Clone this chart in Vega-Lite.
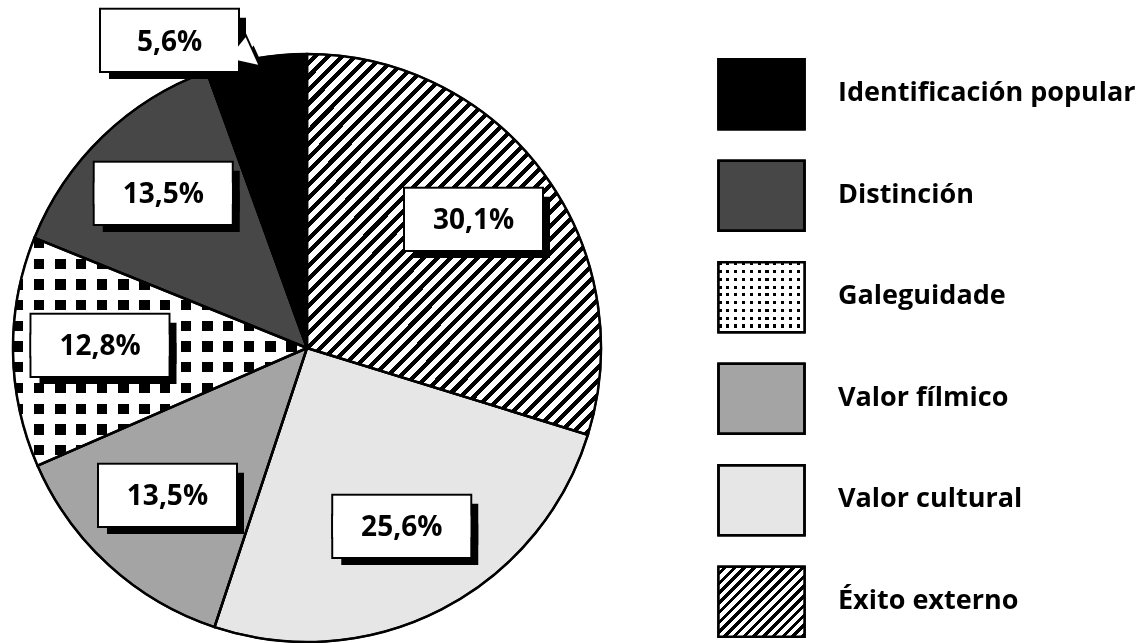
{
  "$schema": "https://vega.github.io/schema/vega-lite/v6.json",
  "padding": 0,
  "background": "white",
  "spacing": 61,
  "config": {"view": {"stroke": null}},
  "datasets": {
    "pie": [
      {"cat": "Éxito externo", "pct": 30.1, "label": "30,1%", "order": 1},
      {"cat": "Valor cultural", "pct": 25.6, "label": "25,6%", "order": 2},
      {"cat": "Valor fílmico", "pct": 13.5, "label": "13,5%", "order": 3},
      {"cat": "Galeguidade", "pct": 12.8, "label": "12,8%", "order": 4},
      {"cat": "Distinción", "pct": 13.5, "label": "13,5%", "order": 5},
      {"cat": "Identificación popular", "pct": 5.6, "label": "5,6%", "order": 6}
    ]
  },
  "hconcat": [
    {
      "width": 614,
      "height": 696,
      "data": {"name": "pie"},
      "encoding": {
        "theta": {"field": "pct", "type": "quantitative", "stack": true},
        "order": {"field": "order", "type": "quantitative"}
      },
      "layer": [
        {
          "mark": {"type": "arc", "outerRadius": 294, "stroke": "#000", "strokeWidth": 2},
          "encoding": {
            "color": {"field": "cat", "type": "nominal", "legend": null,
              "scale": {"domain": ["Éxito externo", "Valor cultural", "Valor fílmico", "Galeguidade", "Distinción", "Identificación popular"],
                        "range": ["#ffffff", "#e6e6e6", "#a4a4a4", "#ffffff", "#474747", "#000000"]}}
          }
        },
        {
          "mark": {"type": "arc", "outerRadius": 294, "strokeWidth": 0,
            "fill": {"gradient": "linear", "x1": 0, "y1": 0, "x2": 0.859, "y2": 1.109, "stops": [
              {"offset": 0, "color": "#fff"}, {"offset": 0.011, "color": "#fff"}, {"offset": 0.011, "color": "#000"}, {"offset": 0.02, "color": "#000"},
              {"offset": 0.02, "color": "#fff"}, {"offset": 0.031, "color": "#fff"}, {"offset": 0.031, "color": "#000"}, {"offset": 0.04, "color": "#000"},
              {"offset": 0.04, "color": "#fff"}, {"offset": 0.051, "color": "#fff"}, {"offset": 0.051, "color": "#000"}, {"offset": 0.06, "color": "#000"},
              {"offset": 0.06, "color": "#fff"}, {"offset": 0.071, "color": "#fff"}, {"offset": 0.071, "color": "#000"}, {"offset": 0.08, "color": "#000"},
              {"offset": 0.08, "color": "#fff"}, {"offset": 0.091, "color": "#fff"}, {"offset": 0.091, "color": "#000"}, {"offset": 0.1, "color": "#000"},
              {"offset": 0.1, "color": "#fff"}, {"offset": 0.111, "color": "#fff"}, {"offset": 0.111, "color": "#000"}, {"offset": 0.12, "color": "#000"},
              {"offset": 0.12, "color": "#fff"}, {"offset": 0.131, "color": "#fff"}, {"offset": 0.131, "color": "#000"}, {"offset": 0.14, "color": "#000"},
              {"offset": 0.14, "color": "#fff"}, {"offset": 0.151, "color": "#fff"}, {"offset": 0.151, "color": "#000"}, {"offset": 0.16, "color": "#000"},
              {"offset": 0.16, "color": "#fff"}, {"offset": 0.171, "color": "#fff"}, {"offset": 0.171, "color": "#000"}, {"offset": 0.18, "color": "#000"},
              {"offset": 0.18, "color": "#fff"}, {"offset": 0.191, "color": "#fff"}, {"offset": 0.191, "color": "#000"}, {"offset": 0.2, "color": "#000"},
              {"offset": 0.2, "color": "#fff"}, {"offset": 0.211, "color": "#fff"}, {"offset": 0.211, "color": "#000"}, {"offset": 0.22, "color": "#000"},
              {"offset": 0.22, "color": "#fff"}, {"offset": 0.231, "color": "#fff"}, {"offset": 0.231, "color": "#000"}, {"offset": 0.24, "color": "#000"},
              {"offset": 0.24, "color": "#fff"}, {"offset": 0.251, "color": "#fff"}, {"offset": 0.251, "color": "#000"}, {"offset": 0.26, "color": "#000"},
              {"offset": 0.26, "color": "#fff"}, {"offset": 0.271, "color": "#fff"}, {"offset": 0.271, "color": "#000"}, {"offset": 0.28, "color": "#000"},
              {"offset": 0.28, "color": "#fff"}, {"offset": 0.291, "color": "#fff"}, {"offset": 0.291, "color": "#000"}, {"offset": 0.3, "color": "#000"},
              {"offset": 0.3, "color": "#fff"}, {"offset": 0.311, "color": "#fff"}, {"offset": 0.311, "color": "#000"}, {"offset": 0.32, "color": "#000"},
              {"offset": 0.32, "color": "#fff"}, {"offset": 0.331, "color": "#fff"}, {"offset": 0.331, "color": "#000"}, {"offset": 0.34, "color": "#000"},
              {"offset": 0.34, "color": "#fff"}, {"offset": 0.351, "color": "#fff"}, {"offset": 0.351, "color": "#000"}, {"offset": 0.36, "color": "#000"},
              {"offset": 0.36, "color": "#fff"}, {"offset": 0.371, "color": "#fff"}, {"offset": 0.371, "color": "#000"}, {"offset": 0.38, "color": "#000"},
              {"offset": 0.38, "color": "#fff"}, {"offset": 0.391, "color": "#fff"}, {"offset": 0.391, "color": "#000"}, {"offset": 0.4, "color": "#000"},
              {"offset": 0.4, "color": "#fff"}, {"offset": 0.411, "color": "#fff"}, {"offset": 0.411, "color": "#000"}, {"offset": 0.42, "color": "#000"},
              {"offset": 0.42, "color": "#fff"}, {"offset": 0.431, "color": "#fff"}, {"offset": 0.431, "color": "#000"}, {"offset": 0.44, "color": "#000"},
              {"offset": 0.44, "color": "#fff"}, {"offset": 0.451, "color": "#fff"}, {"offset": 0.451, "color": "#000"}, {"offset": 0.46, "color": "#000"},
              {"offset": 0.46, "color": "#fff"}, {"offset": 0.471, "color": "#fff"}, {"offset": 0.471, "color": "#000"}, {"offset": 0.48, "color": "#000"},
              {"offset": 0.48, "color": "#fff"}, {"offset": 0.491, "color": "#fff"}, {"offset": 0.491, "color": "#000"}, {"offset": 0.5, "color": "#000"},
              {"offset": 0.5, "color": "#fff"}, {"offset": 0.511, "color": "#fff"}, {"offset": 0.511, "color": "#000"}, {"offset": 0.52, "color": "#000"},
              {"offset": 0.52, "color": "#fff"}, {"offset": 0.531, "color": "#fff"}, {"offset": 0.531, "color": "#000"}, {"offset": 0.54, "color": "#000"},
              {"offset": 0.54, "color": "#fff"}, {"offset": 0.551, "color": "#fff"}, {"offset": 0.551, "color": "#000"}, {"offset": 0.56, "color": "#000"},
              {"offset": 0.56, "color": "#fff"}, {"offset": 0.571, "color": "#fff"}, {"offset": 0.571, "color": "#000"}, {"offset": 0.58, "color": "#000"},
              {"offset": 0.58, "color": "#fff"}, {"offset": 0.591, "color": "#fff"}, {"offset": 0.591, "color": "#000"}, {"offset": 0.6, "color": "#000"},
              {"offset": 0.6, "color": "#fff"}, {"offset": 0.611, "color": "#fff"}, {"offset": 0.611, "color": "#000"}, {"offset": 0.62, "color": "#000"},
              {"offset": 0.62, "color": "#fff"}, {"offset": 0.631, "color": "#fff"}, {"offset": 0.631, "color": "#000"}, {"offset": 0.64, "color": "#000"},
              {"offset": 0.64, "color": "#fff"}, {"offset": 0.651, "color": "#fff"}, {"offset": 0.651, "color": "#000"}, {"offset": 0.66, "color": "#000"},
              {"offset": 0.66, "color": "#fff"}, {"offset": 0.671, "color": "#fff"}, {"offset": 0.671, "color": "#000"}, {"offset": 0.68, "color": "#000"},
              {"offset": 0.68, "color": "#fff"}, {"offset": 0.691, "color": "#fff"}, {"offset": 0.691, "color": "#000"}, {"offset": 0.7, "color": "#000"},
              {"offset": 0.7, "color": "#fff"}, {"offset": 0.711, "color": "#fff"}, {"offset": 0.711, "color": "#000"}, {"offset": 0.72, "color": "#000"},
              {"offset": 0.72, "color": "#fff"}, {"offset": 0.731, "color": "#fff"}, {"offset": 0.731, "color": "#000"}, {"offset": 0.74, "color": "#000"},
              {"offset": 0.74, "color": "#fff"}, {"offset": 0.751, "color": "#fff"}, {"offset": 0.751, "color": "#000"}, {"offset": 0.76, "color": "#000"},
              {"offset": 0.76, "color": "#fff"}, {"offset": 0.771, "color": "#fff"}, {"offset": 0.771, "color": "#000"}, {"offset": 0.78, "color": "#000"},
              {"offset": 0.78, "color": "#fff"}, {"offset": 0.791, "color": "#fff"}, {"offset": 0.791, "color": "#000"}, {"offset": 0.8, "color": "#000"},
              {"offset": 0.8, "color": "#fff"}, {"offset": 0.811, "color": "#fff"}, {"offset": 0.811, "color": "#000"}, {"offset": 0.82, "color": "#000"},
              {"offset": 0.82, "color": "#fff"}, {"offset": 0.831, "color": "#fff"}, {"offset": 0.831, "color": "#000"}, {"offset": 0.84, "color": "#000"},
              {"offset": 0.84, "color": "#fff"}, {"offset": 0.851, "color": "#fff"}, {"offset": 0.851, "color": "#000"}, {"offset": 0.86, "color": "#000"},
              {"offset": 0.86, "color": "#fff"}, {"offset": 0.871, "color": "#fff"}, {"offset": 0.871, "color": "#000"}, {"offset": 0.88, "color": "#000"},
              {"offset": 0.88, "color": "#fff"}, {"offset": 0.891, "color": "#fff"}, {"offset": 0.891, "color": "#000"}, {"offset": 0.9, "color": "#000"},
              {"offset": 0.9, "color": "#fff"}, {"offset": 0.911, "color": "#fff"}, {"offset": 0.911, "color": "#000"}, {"offset": 0.92, "color": "#000"},
              {"offset": 0.92, "color": "#fff"}, {"offset": 0.931, "color": "#fff"}, {"offset": 0.931, "color": "#000"}, {"offset": 0.94, "color": "#000"},
              {"offset": 0.94, "color": "#fff"}, {"offset": 0.951, "color": "#fff"}, {"offset": 0.951, "color": "#000"}, {"offset": 0.96, "color": "#000"},
              {"offset": 0.96, "color": "#fff"}, {"offset": 0.971, "color": "#fff"}, {"offset": 0.971, "color": "#000"}, {"offset": 0.98, "color": "#000"},
              {"offset": 0.98, "color": "#fff"}, {"offset": 0.991, "color": "#fff"}, {"offset": 0.991, "color": "#000"}, {"offset": 1, "color": "#000"}
            ]}},
          "encoding": {
            "detail": {"field": "cat"},
            "fillOpacity": {"condition": {"test": "datum.cat === 'Éxito externo'", "value": 1}, "value": 0}
          }
        },
        {
          "mark": {"type": "arc", "outerRadius": 294, "strokeWidth": 0,
            "fill": {"gradient": "linear", "x1": 0, "y1": 0, "x2": 0, "y2": 1, "stops": [
              {"offset": 0, "color": "#000"}, {"offset": 0.0455, "color": "#000"}, {"offset": 0.0455, "color": "#fff"}, {"offset": 0.0909, "color": "#fff"},
              {"offset": 0.0909, "color": "#000"}, {"offset": 0.1364, "color": "#000"}, {"offset": 0.1364, "color": "#fff"}, {"offset": 0.1818, "color": "#fff"},
              {"offset": 0.1818, "color": "#000"}, {"offset": 0.2273, "color": "#000"}, {"offset": 0.2273, "color": "#fff"}, {"offset": 0.2727, "color": "#fff"},
              {"offset": 0.2727, "color": "#000"}, {"offset": 0.3182, "color": "#000"}, {"offset": 0.3182, "color": "#fff"}, {"offset": 0.3636, "color": "#fff"},
              {"offset": 0.3636, "color": "#000"}, {"offset": 0.4091, "color": "#000"}, {"offset": 0.4091, "color": "#fff"}, {"offset": 0.4545, "color": "#fff"},
              {"offset": 0.4545, "color": "#000"}, {"offset": 0.5, "color": "#000"}, {"offset": 0.5, "color": "#fff"}, {"offset": 0.5455, "color": "#fff"},
              {"offset": 0.5455, "color": "#000"}, {"offset": 0.5909, "color": "#000"}, {"offset": 0.5909, "color": "#fff"}, {"offset": 0.6364, "color": "#fff"},
              {"offset": 0.6364, "color": "#000"}, {"offset": 0.6818, "color": "#000"}, {"offset": 0.6818, "color": "#fff"}, {"offset": 0.7273, "color": "#fff"},
              {"offset": 0.7273, "color": "#000"}, {"offset": 0.7727, "color": "#000"}, {"offset": 0.7727, "color": "#fff"}, {"offset": 0.8182, "color": "#fff"},
              {"offset": 0.8182, "color": "#000"}, {"offset": 0.8636, "color": "#000"}, {"offset": 0.8636, "color": "#fff"}, {"offset": 0.9091, "color": "#fff"},
              {"offset": 0.9091, "color": "#000"}, {"offset": 0.9545, "color": "#000"}, {"offset": 0.9545, "color": "#fff"}, {"offset": 1, "color": "#fff"}
            ]}},
          "encoding": {
            "detail": {"field": "cat"},
            "fillOpacity": {"condition": {"test": "datum.cat === 'Galeguidade'", "value": 1}, "value": 0}
          }
        },
        {
          "mark": {"type": "arc", "outerRadius": 294, "strokeWidth": 0, "blend": "lighten",
            "fill": {"gradient": "linear", "x1": 0, "y1": 0, "x2": 1, "y2": 0, "stops": [
              {"offset": 0, "color": "#000"}, {"offset": 0.0357, "color": "#000"}, {"offset": 0.0357, "color": "#fff"}, {"offset": 0.0714, "color": "#fff"},
              {"offset": 0.0714, "color": "#000"}, {"offset": 0.1071, "color": "#000"}, {"offset": 0.1071, "color": "#fff"}, {"offset": 0.1429, "color": "#fff"},
              {"offset": 0.1429, "color": "#000"}, {"offset": 0.1786, "color": "#000"}, {"offset": 0.1786, "color": "#fff"}, {"offset": 0.2143, "color": "#fff"},
              {"offset": 0.2143, "color": "#000"}, {"offset": 0.25, "color": "#000"}, {"offset": 0.25, "color": "#fff"}, {"offset": 0.2857, "color": "#fff"},
              {"offset": 0.2857, "color": "#000"}, {"offset": 0.3214, "color": "#000"}, {"offset": 0.3214, "color": "#fff"}, {"offset": 0.3571, "color": "#fff"},
              {"offset": 0.3571, "color": "#000"}, {"offset": 0.3929, "color": "#000"}, {"offset": 0.3929, "color": "#fff"}, {"offset": 0.4286, "color": "#fff"},
              {"offset": 0.4286, "color": "#000"}, {"offset": 0.4643, "color": "#000"}, {"offset": 0.4643, "color": "#fff"}, {"offset": 0.5, "color": "#fff"},
              {"offset": 0.5, "color": "#000"}, {"offset": 0.5357, "color": "#000"}, {"offset": 0.5357, "color": "#fff"}, {"offset": 0.5714, "color": "#fff"},
              {"offset": 0.5714, "color": "#000"}, {"offset": 0.6071, "color": "#000"}, {"offset": 0.6071, "color": "#fff"}, {"offset": 0.6429, "color": "#fff"},
              {"offset": 0.6429, "color": "#000"}, {"offset": 0.6786, "color": "#000"}, {"offset": 0.6786, "color": "#fff"}, {"offset": 0.7143, "color": "#fff"},
              {"offset": 0.7143, "color": "#000"}, {"offset": 0.75, "color": "#000"}, {"offset": 0.75, "color": "#fff"}, {"offset": 0.7857, "color": "#fff"},
              {"offset": 0.7857, "color": "#000"}, {"offset": 0.8214, "color": "#000"}, {"offset": 0.8214, "color": "#fff"}, {"offset": 0.8571, "color": "#fff"},
              {"offset": 0.8571, "color": "#000"}, {"offset": 0.8929, "color": "#000"}, {"offset": 0.8929, "color": "#fff"}, {"offset": 0.9286, "color": "#fff"},
              {"offset": 0.9286, "color": "#000"}, {"offset": 0.9643, "color": "#000"}, {"offset": 0.9643, "color": "#fff"}, {"offset": 1, "color": "#fff"}
            ]}},
          "encoding": {
            "detail": {"field": "cat"},
            "fillOpacity": {"condition": {"test": "datum.cat === 'Galeguidade'", "value": 1}, "value": 0}
          }
        },
        {
          "mark": {"type": "arc", "outerRadius": 294, "fillOpacity": 0, "stroke": "#000", "strokeWidth": 2.5},
          "encoding": {"detail": {"field": "cat"}}
        },
        {
          "mark": {"type": "text", "lineHeight": 20, "fontSize": 137, "radius": 207, "align": "center", "baseline": "middle", "fill": "#000", "dx": 8, "dy": -27.8, "clip": true},
          "encoding": {"detail": {"field": "cat"}, "text": {"condition": {"test": "datum.cat !== 'Identificación popular'", "value": ["▬", "▬"]}, "value": ""}}
        },
        {
          "mark": {"type": "text", "lineHeight": 20, "fontSize": 137, "radius": 207, "align": "center", "baseline": "middle", "fill": "#000", "stroke": "#000", "strokeWidth": 4, "dy": -35.8, "clip": true},
          "encoding": {"detail": {"field": "cat"}, "text": {"condition": {"test": "datum.cat !== 'Identificación popular'", "value": ["▬", "▬"]}, "value": ""}}
        },
        {
          "mark": {"type": "text", "lineHeight": 20, "fontSize": 137, "radius": 207, "align": "center", "baseline": "middle", "fill": "#fff", "dy": -35.8, "clip": true},
          "encoding": {"detail": {"field": "cat"}, "text": {"condition": {"test": "datum.cat !== 'Identificación popular'", "value": ["▬", "▬"]}, "value": ""}}
        },
        {
          "mark": {"type": "text", "radius": 207, "align": "center", "baseline": "middle", "font": "Open Sans", "fontWeight": "bold", "fontSize": 28, "fill": "#000", "dy": -3.8, "clip": true},
          "encoding": {"detail": {"field": "cat"}, "text": {"condition": {"test": "datum.cat !== 'Identificación popular'", "field": "label"}, "value": ""}}
        },
        {
          "mark": {"type": "text", "lineHeight": 20, "fontSize": 137, "radius": 311, "align": "center", "baseline": "middle", "fill": "#000", "dx": -75.6, "dy": -24, "clip": true},
          "encoding": {"detail": {"field": "cat"}, "text": {"condition": {"test": "datum.cat === 'Identificación popular'", "value": ["▬", "▬"]}, "value": ""}}
        },
        {
          "mark": {"type": "text", "fontSize": 45, "angle": 39, "radius": 311, "align": "center", "baseline": "middle", "fill": "#000", "dx": 16.2, "dy": 15, "clip": true},
          "encoding": {"detail": {"field": "cat"}, "text": {"condition": {"test": "datum.cat === 'Identificación popular'", "value": "►"}, "value": ""}}
        },
        {
          "mark": {"type": "text", "fontSize": 45, "angle": 39, "radius": 311, "align": "center", "baseline": "middle", "fill": "#000", "stroke": "#000", "strokeWidth": 4, "dx": 4.9, "dy": 13.8, "clip": true},
          "encoding": {"detail": {"field": "cat"}, "text": {"condition": {"test": "datum.cat === 'Identificación popular'", "value": "►"}, "value": ""}}
        },
        {
          "mark": {"type": "text", "lineHeight": 20, "fontSize": 137, "radius": 311, "align": "center", "baseline": "middle", "fill": "#000", "stroke": "#000", "strokeWidth": 4, "dx": -83.6, "dy": -32, "clip": true},
          "encoding": {"detail": {"field": "cat"}, "text": {"condition": {"test": "datum.cat === 'Identificación popular'", "value": ["▬", "▬"]}, "value": ""}}
        },
        {
          "mark": {"type": "text", "lineHeight": 20, "fontSize": 137, "radius": 311, "align": "center", "baseline": "middle", "fill": "#fff", "dx": -83.6, "dy": -32, "clip": true},
          "encoding": {"detail": {"field": "cat"}, "text": {"condition": {"test": "datum.cat === 'Identificación popular'", "value": ["▬", "▬"]}, "value": ""}}
        },
        {
          "mark": {"type": "text", "fontSize": 45, "angle": 39, "radius": 311, "align": "center", "baseline": "middle", "fill": "#fff", "dx": 4.9, "dy": 13.8, "clip": true},
          "encoding": {"detail": {"field": "cat"}, "text": {"condition": {"test": "datum.cat === 'Identificación popular'", "value": "►"}, "value": ""}}
        },
        {
          "mark": {"type": "text", "radius": 311, "align": "center", "baseline": "middle", "font": "Open Sans", "fontWeight": "bold", "fontSize": 28, "fill": "#000", "dx": -83.6, "dy": 1.5, "clip": true},
          "encoding": {"detail": {"field": "cat"}, "text": {"condition": {"test": "datum.cat === 'Identificación popular'", "field": "label"}, "value": ""}}
        }
      ]
    },
    {
      "width": 173,
      "height": 696,
      "data": {"name": "pie"},
      "encoding": {
        "y": {"field": "cat", "type": "nominal", "axis": null,
          "sort": ["Identificación popular", "Distinción", "Galeguidade", "Valor fílmico", "Valor cultural", "Éxito externo"],
          "scale": {"type": "point", "padding": 0.93}}
      },
      "layer": [
        {
          "mark": {"type": "point", "shape": "M-1.229,-1L1.229,-1L1.229,1L-1.229,1Z", "size": 4900, "filled": true, "opacity": 1, "stroke": "#000", "strokeWidth": 2.5},
          "encoding": {
            "color": {"field": "cat", "type": "nominal", "legend": null,
              "scale": {"domain": ["Éxito externo", "Valor cultural", "Valor fílmico", "Galeguidade", "Distinción", "Identificación popular"],
                        "range": ["#ffffff", "#e6e6e6", "#a4a4a4", "#ffffff", "#474747", "#000000"]}}
          }
        },
        {
          "mark": {"type": "point", "shape": "M-1.229,-1L1.229,-1L1.229,1L-1.229,1Z", "size": 4900, "filled": true, "opacity": 1, "strokeWidth": 0,
            "fill": {"gradient": "linear", "x1": 0, "y1": 0, "x2": 1.091, "y2": 0.888, "stops": [
              {"offset": 0, "color": "#fff"}, {"offset": 0.034, "color": "#fff"}, {"offset": 0.034, "color": "#000"}, {"offset": 0.0625, "color": "#000"},
              {"offset": 0.0625, "color": "#fff"}, {"offset": 0.0965, "color": "#fff"}, {"offset": 0.0965, "color": "#000"}, {"offset": 0.125, "color": "#000"},
              {"offset": 0.125, "color": "#fff"}, {"offset": 0.159, "color": "#fff"}, {"offset": 0.159, "color": "#000"}, {"offset": 0.1875, "color": "#000"},
              {"offset": 0.1875, "color": "#fff"}, {"offset": 0.2215, "color": "#fff"}, {"offset": 0.2215, "color": "#000"}, {"offset": 0.25, "color": "#000"},
              {"offset": 0.25, "color": "#fff"}, {"offset": 0.284, "color": "#fff"}, {"offset": 0.284, "color": "#000"}, {"offset": 0.3125, "color": "#000"},
              {"offset": 0.3125, "color": "#fff"}, {"offset": 0.3465, "color": "#fff"}, {"offset": 0.3465, "color": "#000"}, {"offset": 0.375, "color": "#000"},
              {"offset": 0.375, "color": "#fff"}, {"offset": 0.409, "color": "#fff"}, {"offset": 0.409, "color": "#000"}, {"offset": 0.4375, "color": "#000"},
              {"offset": 0.4375, "color": "#fff"}, {"offset": 0.4715, "color": "#fff"}, {"offset": 0.4715, "color": "#000"}, {"offset": 0.5, "color": "#000"},
              {"offset": 0.5, "color": "#fff"}, {"offset": 0.534, "color": "#fff"}, {"offset": 0.534, "color": "#000"}, {"offset": 0.5625, "color": "#000"},
              {"offset": 0.5625, "color": "#fff"}, {"offset": 0.5965, "color": "#fff"}, {"offset": 0.5965, "color": "#000"}, {"offset": 0.625, "color": "#000"},
              {"offset": 0.625, "color": "#fff"}, {"offset": 0.659, "color": "#fff"}, {"offset": 0.659, "color": "#000"}, {"offset": 0.6875, "color": "#000"},
              {"offset": 0.6875, "color": "#fff"}, {"offset": 0.7215, "color": "#fff"}, {"offset": 0.7215, "color": "#000"}, {"offset": 0.75, "color": "#000"},
              {"offset": 0.75, "color": "#fff"}, {"offset": 0.784, "color": "#fff"}, {"offset": 0.784, "color": "#000"}, {"offset": 0.8125, "color": "#000"},
              {"offset": 0.8125, "color": "#fff"}, {"offset": 0.8465, "color": "#fff"}, {"offset": 0.8465, "color": "#000"}, {"offset": 0.875, "color": "#000"},
              {"offset": 0.875, "color": "#fff"}, {"offset": 0.909, "color": "#fff"}, {"offset": 0.909, "color": "#000"}, {"offset": 0.9375, "color": "#000"},
              {"offset": 0.9375, "color": "#fff"}, {"offset": 0.9715, "color": "#fff"}, {"offset": 0.9715, "color": "#000"}, {"offset": 1, "color": "#000"}
            ]}},
          "encoding": {"fillOpacity": {"condition": {"test": "datum.cat === 'Éxito externo'", "value": 1}, "value": 0}}
        },
        {
          "mark": {"type": "point", "shape": "M-1.229,-1L1.229,-1L1.229,1L-1.229,1Z", "size": 4900, "filled": true, "opacity": 1, "strokeWidth": 0,
            "fill": {"gradient": "linear", "x1": 0, "y1": 0, "x2": 0, "y2": 1, "stops": [
              {"offset": 0, "color": "#000"}, {"offset": 0.0444, "color": "#000"}, {"offset": 0.0444, "color": "#fff"}, {"offset": 0.1111, "color": "#fff"},
              {"offset": 0.1111, "color": "#000"}, {"offset": 0.1556, "color": "#000"}, {"offset": 0.1556, "color": "#fff"}, {"offset": 0.2222, "color": "#fff"},
              {"offset": 0.2222, "color": "#000"}, {"offset": 0.2667, "color": "#000"}, {"offset": 0.2667, "color": "#fff"}, {"offset": 0.3333, "color": "#fff"},
              {"offset": 0.3333, "color": "#000"}, {"offset": 0.3778, "color": "#000"}, {"offset": 0.3778, "color": "#fff"}, {"offset": 0.4444, "color": "#fff"},
              {"offset": 0.4444, "color": "#000"}, {"offset": 0.4889, "color": "#000"}, {"offset": 0.4889, "color": "#fff"}, {"offset": 0.5556, "color": "#fff"},
              {"offset": 0.5556, "color": "#000"}, {"offset": 0.6, "color": "#000"}, {"offset": 0.6, "color": "#fff"}, {"offset": 0.6667, "color": "#fff"},
              {"offset": 0.6667, "color": "#000"}, {"offset": 0.7111, "color": "#000"}, {"offset": 0.7111, "color": "#fff"}, {"offset": 0.7778, "color": "#fff"},
              {"offset": 0.7778, "color": "#000"}, {"offset": 0.8222, "color": "#000"}, {"offset": 0.8222, "color": "#fff"}, {"offset": 0.8889, "color": "#fff"},
              {"offset": 0.8889, "color": "#000"}, {"offset": 0.9333, "color": "#000"}, {"offset": 0.9333, "color": "#fff"}, {"offset": 1, "color": "#fff"}
            ]}},
          "encoding": {"fillOpacity": {"condition": {"test": "datum.cat === 'Galeguidade'", "value": 1}, "value": 0}}
        },
        {
          "mark": {"type": "point", "shape": "M-1.229,-1L1.229,-1L1.229,1L-1.229,1Z", "size": 4900, "filled": true, "opacity": 1, "strokeWidth": 0, "blend": "lighten",
            "fill": {"gradient": "linear", "x1": 0, "y1": 0, "x2": 1, "y2": 0, "stops": [
              {"offset": 0, "color": "#000"}, {"offset": 0.0364, "color": "#000"}, {"offset": 0.0364, "color": "#fff"}, {"offset": 0.0909, "color": "#fff"},
              {"offset": 0.0909, "color": "#000"}, {"offset": 0.1273, "color": "#000"}, {"offset": 0.1273, "color": "#fff"}, {"offset": 0.1818, "color": "#fff"},
              {"offset": 0.1818, "color": "#000"}, {"offset": 0.2182, "color": "#000"}, {"offset": 0.2182, "color": "#fff"}, {"offset": 0.2727, "color": "#fff"},
              {"offset": 0.2727, "color": "#000"}, {"offset": 0.3091, "color": "#000"}, {"offset": 0.3091, "color": "#fff"}, {"offset": 0.3636, "color": "#fff"},
              {"offset": 0.3636, "color": "#000"}, {"offset": 0.4, "color": "#000"}, {"offset": 0.4, "color": "#fff"}, {"offset": 0.4545, "color": "#fff"},
              {"offset": 0.4545, "color": "#000"}, {"offset": 0.4909, "color": "#000"}, {"offset": 0.4909, "color": "#fff"}, {"offset": 0.5455, "color": "#fff"},
              {"offset": 0.5455, "color": "#000"}, {"offset": 0.5818, "color": "#000"}, {"offset": 0.5818, "color": "#fff"}, {"offset": 0.6364, "color": "#fff"},
              {"offset": 0.6364, "color": "#000"}, {"offset": 0.6727, "color": "#000"}, {"offset": 0.6727, "color": "#fff"}, {"offset": 0.7273, "color": "#fff"},
              {"offset": 0.7273, "color": "#000"}, {"offset": 0.7636, "color": "#000"}, {"offset": 0.7636, "color": "#fff"}, {"offset": 0.8182, "color": "#fff"},
              {"offset": 0.8182, "color": "#000"}, {"offset": 0.8545, "color": "#000"}, {"offset": 0.8545, "color": "#fff"}, {"offset": 0.9091, "color": "#fff"},
              {"offset": 0.9091, "color": "#000"}, {"offset": 0.9455, "color": "#000"}, {"offset": 0.9455, "color": "#fff"}, {"offset": 1, "color": "#fff"}
            ]}},
          "encoding": {"fillOpacity": {"condition": {"test": "datum.cat === 'Galeguidade'", "value": 1}, "value": 0}}
        },
        {
          "mark": {"type": "point", "shape": "M-1.229,-1L1.229,-1L1.229,1L-1.229,1Z", "size": 4900, "filled": false, "opacity": 1, "stroke": "#000", "strokeWidth": 2.5}
        },
        {
          "mark": {"type": "text", "align": "left", "baseline": "middle", "dx": 76.5, "dy": -1, "font": "Open Sans", "fontWeight": "bold", "fontSize": 27, "fill": "#000"},
          "encoding": {"text": {"field": "cat"}}
        }
      ]
    }
  ]
}
